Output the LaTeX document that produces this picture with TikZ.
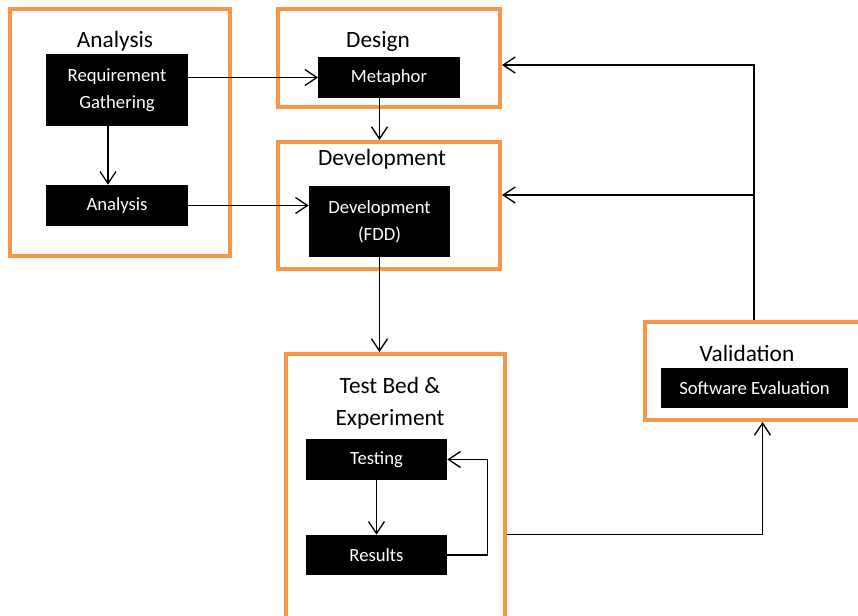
\documentclass[tikz,border=0pt]{standalone}
\usepackage{fontspec}
\setmainfont{Carlito}
\usetikzlibrary{arrows.meta}
\definecolor{phaseorange}{HTML}{F79646}

\begin{document}
\begin{tikzpicture}[x=0.75pt, y=-0.75pt,
  phase/.style={draw=phaseorange, line width=3pt, minimum width=166pt},
  task/.style={fill=black, text=white, align=center, minimum width=106pt, minimum height=30.75pt, font=\fontsize{14}{20}\selectfont},
  title/.style={align=center, font=\fontsize{17.5}{24}\selectfont},
  arr/.style={draw, line width=1pt, -{Straight Barb[length=9pt, width=12pt]}}]
\clip (0,0) rectangle (858,615);

% Analysis
\node[phase, minimum width=165pt, minimum height=185.25pt] (anabox) at (120,132.5) {};
\node[title] (anatitle) at (115,41) {Analysis};
\node[task, minimum height=54pt] (reqg) at (117,90) {Requirement\\Gathering};
\node[task] (ana) at (117,205.5) {Analysis};
\draw[arr] ([xshift=-6.75pt]reqg.south) -- ([xshift=-6.75pt]ana.north);

% Design
\node[phase, minimum width=166.5pt, minimum height=73.5pt] (desbox) at (389,58) {};
\node[title] (destitle) at (378,41) {Design};
\node[task] (meta) at (389,77.5) {Metaphor};
\draw[arr] (reqg.east |- meta.west) -- (meta.west);

% Development
\node[phase, minimum width=166.5pt, minimum height=95.25pt] (devbox) at (389,205.5) {};
\node[title] (devtitle) at (382,159) {Development};
\node[task, minimum width=105.75pt, minimum height=53.25pt] (devin) at (379.5,221.5) {Development\\(FDD)};
\draw[arr] (meta.south -| devin.south) -- (devbox.north -| devin.south);
\draw[arr] (ana.east) -- (ana.east -| devin.west);

% Test Bed
\node[phase, minimum width=164.25pt, minimum height=214.5pt] (tbox) at (395.5,497) {};
\node[title] (tbtitle) at (390,403) {Test Bed \&\\Experiment};
\node[task, minimum width=105.75pt] (testing) at (376.5,459.5) {Testing};
\node[task, minimum width=105.75pt, minimum height=30pt] (results) at (376.5,555) {Results};
\draw[arr] (devin.south) -- (devin.south |- tbox.north);
\draw[arr] (testing.south) -- (results.north);
\draw[arr] (results.east) -- ++(40,0) |- (testing.east);

% Validation
\node[phase, minimum width=176.25pt, minimum height=73.5pt] (valbox) at (762.5,371) {};
\node[title] (valtitle) at (747,353) {Validation};
\node[task, minimum width=140.25pt, minimum height=30pt] (swe) at (754.5,388) {Software Evaluation};
\draw[arr] (tbox.east |- results.north) -| (valbox.south);

% Feedback
\coordinate (fbtop) at (754,65);
\coordinate (fbmid) at (754,195);
\draw[arr] (valbox.north -| fbtop) -- (fbtop) -- (fbtop -| desbox.east);
\draw[arr] (fbmid) -- (fbmid -| devbox.east);
\end{tikzpicture}
\end{document}
